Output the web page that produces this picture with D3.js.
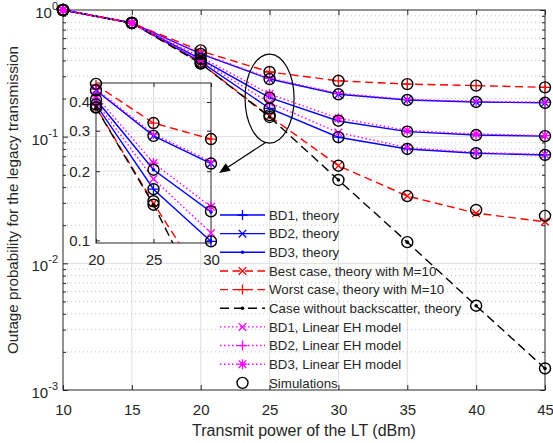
<!DOCTYPE html>
<html>
<head>
<meta charset="utf-8">
<script src="https://cdn.jsdelivr.net/npm/d3@7"></script>
<style>
body { margin: 0; background: #fff; }
text { font-family: "Liberation Sans", Arial, sans-serif; fill: #262626; }
</style>
</head>
<body>
<div id="chart"></div>
<script>
// data
var powerDbm = [10, 15, 20, 25, 30, 35, 40, 45];

var bd1Theory     = [1.0, 0.79, 0.39,  0.167, 0.099,  0.080,  0.074,  0.0717];
var bd2Theory     = [1.0, 0.79, 0.45,  0.285, 0.216,  0.195,  0.188,  0.185];
var bd3Theory     = [1.0, 0.79, 0.41,  0.203, 0.133,  0.1095, 0.103,  0.101];
var bestCase      = [1.0, 0.79, 0.38,  0.145, 0.059,  0.034,  0.0249, 0.0213];
var worstCase     = [1.0, 0.79, 0.475, 0.324, 0.276,  0.26,   0.253,  0.245];
var noBackscatter = [1.0, 0.79, 0.378, 0.143, 0.0455, 0.0147, 0.00463, 0.00148];
var bd1Linear     = [1.0, 0.79, 0.40,  0.185, 0.1077, 0.082,  0.075,  0.0725];
var bd2Linear     = [1.0, 0.79, 0.455, 0.29,  0.22,   0.197,  0.19,   0.187];
var bd3Linear     = [1.0, 0.79, 0.425, 0.217, 0.14,   0.112,  0.105,  0.102];

var simBD1   = [1.0, 0.79, 0.39,  0.167, 0.099,  0.080,  0.074,  0.0717];
var simBD2   = [1.0, 0.79, 0.45,  0.285, 0.216,  0.195,  0.188,  0.185];
var simBD3   = [1.0, 0.79, 0.41,  0.203, 0.1337, 0.1095, 0.103,  0.101];
var simBest  = [1.0, 0.79, 0.38,  0.148, 0.059,  0.034,  0.0264, 0.0237];
var simWorst = [1.0, 0.79, 0.48,  0.324, 0.276,  0.26,   0.253,  0.245];
var simNoBS  = [1.0, 0.79, 0.378, 0.143, 0.0455, 0.0147, 0.00463, 0.00148];

var xTicks = [10, 15, 20, 25, 30, 35, 40, 45];
var yTickExps = [0, -1, -2, -3];
var insetXTicks = [20, 25, 30];
var insetYTicks = [0.1, 0.2, 0.3, 0.4];

var legendLabels = ["BD1, theory", "BD2, theory", "BD3, theory",
    "Best case, theory with M=10", "Worst case, theory with M=10",
    "Case without backscatter, theory", "BD1, Linear EH model",
    "BD2, Linear EH model", "BD3, Linear EH model", "Simulations"];

var svgwidth = 553, svgheight = 443;
var plot = {left: 63, right: 545, top: 10, bottom: 390};
var inset = {left: 96, right: 211, top: 83, bottom: 243};

var svg = d3.select("#chart").append("svg").attr("width", svgwidth).attr("height", svgheight);

var x = d3.scaleLinear().domain([10, 45]).range([plot.left, plot.right]);
var y = d3.scaleLog().domain([1e-3, 1]).range([plot.bottom, plot.top]);
var xi = d3.scaleLinear().domain([20, 30]).range([inset.left, inset.right]);
var yi = d3.scaleLog().domain([0.0974, 0.484]).range([inset.bottom, inset.top]);

var blue = "#0000ff", red = "#ff0000", mag = "#ff00ff", blk = "#000000";
var dashed = "8,4.5", dotted = "1.5,2.5";

var series = [
    {vals: bd1Theory, color: blue, dash: null, marker: "plus"},
    {vals: bd2Theory, color: blue, dash: null, marker: "cross"},
    {vals: bd3Theory, color: blue, dash: null, marker: "dot"},
    {vals: bestCase, color: red, dash: dashed, marker: "cross"},
    {vals: worstCase, color: red, dash: dashed, marker: "plus"},
    {vals: noBackscatter, color: blk, dash: "9,5", marker: "dot"},
    {vals: bd1Linear, color: mag, dash: dotted, marker: "cross"},
    {vals: bd2Linear, color: mag, dash: dotted, marker: "plus"},
    {vals: bd3Linear, color: mag, dash: dotted, marker: "star"}
];
var sims = [simBD1, simBD2, simBD3, simBest, simWorst, simNoBS];

function markerPath(type) {
    var s = 5, c = 3.8;
    if (type == "plus") return "M" + (-s) + ",0H" + s + "M0," + (-s) + "V" + s;
    if (type == "cross") return "M" + (-c) + "," + (-c) + "L" + c + "," + c + "M" + (-c) + "," + c + "L" + c + "," + (-c);
    if (type == "star") return markerPath("plus") + markerPath("cross");
    return "";
}

function drawMarker(g, type, color, px, py) {
    if (type == "dot") {
        g.append("circle").attr("cx", px).attr("cy", py).attr("r", 1.8).attr("fill", color);
    } else if (type == "circle") {
        g.append("circle").attr("cx", px).attr("cy", py).attr("r", 5.5)
            .attr("fill", "none").attr("stroke", blk).attr("stroke-width", 1.4);
    } else {
        g.append("path").attr("d", markerPath(type)).attr("transform", "translate(" + px + "," + py + ")")
            .attr("fill", "none").attr("stroke", color).attr("stroke-width", 1.3);
    }
}

var defs = svg.append("defs");
defs.append("clipPath").attr("id", "clipMain").append("rect")
    .attr("x", plot.left).attr("y", plot.top).attr("width", plot.right - plot.left).attr("height", plot.bottom - plot.top);
defs.append("clipPath").attr("id", "clipInset").append("rect")
    .attr("x", inset.left).attr("y", inset.top).attr("width", inset.right - inset.left).attr("height", inset.bottom - inset.top);

// grid
var grid = svg.append("g");
xTicks.slice(1, -1).forEach(function(t) {
    grid.append("line").attr("x1", x(t)).attr("x2", x(t)).attr("y1", plot.top).attr("y2", plot.bottom)
        .attr("stroke", "#dedede").attr("stroke-width", 1);
});
[1e-1, 1e-2].forEach(function(v) {
    grid.append("line").attr("x1", plot.left).attr("x2", plot.right).attr("y1", y(v)).attr("y2", y(v))
        .attr("stroke", "#dedede").attr("stroke-width", 1);
});
var minorVals = [];
[-3, -2, -1].forEach(function(k) {
    for (var m = 2; m <= 9; m++) minorVals.push(m * Math.pow(10, k));
});
minorVals.forEach(function(v) {
    grid.append("line").attr("x1", plot.left).attr("x2", plot.right).attr("y1", y(v)).attr("y2", y(v))
        .attr("stroke", "#bdbdbd").attr("stroke-width", 0.9).attr("stroke-dasharray", "1,3");
});

// axes ticks (inside)
svg.append("g").attr("transform", "translate(0," + plot.bottom + ")")
    .call(d3.axisBottom(x).tickValues(xTicks).tickSizeInner(-5).tickSizeOuter(0).tickPadding(14))
    .call(function(g) { g.select(".domain").remove(); g.selectAll("text").attr("font-size", 15).attr("fill", "#262626"); });
svg.append("g").attr("transform", "translate(0," + plot.top + ")")
    .call(d3.axisTop(x).tickValues(xTicks).tickSizeInner(-5).tickSizeOuter(0).tickFormat(""))
    .call(function(g) { g.select(".domain").remove(); });
svg.append("g").attr("transform", "translate(" + plot.left + ",0)")
    .call(d3.axisLeft(y).tickValues(yTickExps.map(function(e) { return Math.pow(10, e); })).tickSizeInner(-5).tickSizeOuter(0).tickFormat(""))
    .call(function(g) { g.select(".domain").remove(); });
svg.append("g").attr("transform", "translate(" + plot.left + ",0)")
    .call(d3.axisLeft(y).tickValues(minorVals).tickSizeInner(-3).tickSizeOuter(0).tickFormat(""))
    .call(function(g) { g.select(".domain").remove(); });
svg.append("g").attr("transform", "translate(" + plot.right + ",0)")
    .call(d3.axisRight(y).tickValues(yTickExps.map(function(e) { return Math.pow(10, e); })).tickSizeInner(-5).tickSizeOuter(0).tickFormat(""))
    .call(function(g) { g.select(".domain").remove(); });
svg.append("g").attr("transform", "translate(" + plot.right + ",0)")
    .call(d3.axisRight(y).tickValues(minorVals).tickSizeInner(-3).tickSizeOuter(0).tickFormat(""))
    .call(function(g) { g.select(".domain").remove(); });
svg.selectAll(".tick line").attr("stroke", "#262626");

yTickExps.forEach(function(e) {
    var t = svg.append("text").attr("x", plot.left - 5).attr("y", y(Math.pow(10, e)) + 8)
        .attr("text-anchor", "end").attr("font-size", 15).text("10");
    t.append("tspan").attr("dy", -8).attr("font-size", 11).text(e);
});

svg.append("rect").attr("x", plot.left).attr("y", plot.top)
    .attr("width", plot.right - plot.left).attr("height", plot.bottom - plot.top)
    .attr("fill", "none").attr("stroke", "#262626").attr("stroke-width", 1);

// axis titles
svg.append("text").attr("x", (plot.left + plot.right) / 2).attr("y", 436)
    .attr("text-anchor", "middle").attr("font-size", 16).text("Transmit power of the LT (dBm)");
svg.append("text").attr("transform", "translate(18," + (plot.top + plot.bottom) / 2 + ") rotate(-90)")
    .attr("text-anchor", "middle").attr("font-size", 15.2).text("Outage probability for the legacy transmission");

// main data
var mainG = svg.append("g");
series.forEach(function(s) {
    var line = d3.line().x(function(d, i) { return x(powerDbm[i]); }).y(function(d) { return y(d); });
    mainG.append("path").datum(s.vals).attr("d", line).attr("clip-path", "url(#clipMain)")
        .attr("fill", "none").attr("stroke", s.color).attr("stroke-width", 1.4)
        .attr("stroke-dasharray", s.dash);
});
series.forEach(function(s) {
    s.vals.forEach(function(v, i) { drawMarker(mainG, s.marker, s.color, x(powerDbm[i]), y(v)); });
});
sims.forEach(function(sv) {
    sv.forEach(function(v, i) { drawMarker(mainG, "circle", blk, x(powerDbm[i]), y(v)); });
});

// inset
var insG = svg.append("g");
insetXTicks.slice(1, -1).forEach(function(t) {
    insG.append("line").attr("x1", xi(t)).attr("x2", xi(t)).attr("y1", inset.top).attr("y2", inset.bottom)
        .attr("stroke", "#dedede");
});
insetYTicks.slice(1).forEach(function(t) {
    insG.append("line").attr("x1", inset.left).attr("x2", inset.right).attr("y1", yi(t)).attr("y2", yi(t))
        .attr("stroke", "#e4e4e4");
});
insG.append("g").attr("transform", "translate(0," + inset.bottom + ")")
    .call(d3.axisBottom(xi).tickValues(insetXTicks).tickSizeInner(-4).tickSizeOuter(0).tickPadding(11))
    .call(function(g) { g.select(".domain").remove(); g.selectAll("text").attr("font-size", 15).attr("fill", "#262626"); });
insG.append("g").attr("transform", "translate(0," + inset.top + ")")
    .call(d3.axisTop(xi).tickValues(insetXTicks).tickSizeInner(-4).tickSizeOuter(0).tickFormat(""))
    .call(function(g) { g.select(".domain").remove(); });
insG.append("g").attr("transform", "translate(" + inset.left + ",0)")
    .call(d3.axisLeft(yi).tickValues(insetYTicks).tickSizeInner(-4).tickSizeOuter(0).tickPadding(6).tickFormat(d3.format(".1f")))
    .call(function(g) { g.select(".domain").remove(); g.selectAll("text").attr("font-size", 15).attr("fill", "#262626"); });
insG.append("g").attr("transform", "translate(" + inset.right + ",0)")
    .call(d3.axisRight(yi).tickValues(insetYTicks).tickSizeInner(-4).tickSizeOuter(0).tickFormat(""))
    .call(function(g) { g.select(".domain").remove(); });
insG.selectAll(".tick line").attr("stroke", "#262626");
insG.append("rect").attr("x", inset.left).attr("y", inset.top)
    .attr("width", inset.right - inset.left).attr("height", inset.bottom - inset.top)
    .attr("fill", "none").attr("stroke", "#262626").attr("stroke-width", 1);

function inInset(i, v) {
    return powerDbm[i] >= 20 && powerDbm[i] <= 30 && v >= yi.domain()[0] * 0.99 && v <= yi.domain()[1] * 1.01;
}
series.forEach(function(s) {
    var line = d3.line().x(function(d, i) { return xi(powerDbm[i]); }).y(function(d) { return yi(d); });
    insG.append("path").datum(s.vals).attr("d", line).attr("clip-path", "url(#clipInset)")
        .attr("fill", "none").attr("stroke", s.color).attr("stroke-width", 1.4)
        .attr("stroke-dasharray", s.dash);
});
series.forEach(function(s) {
    s.vals.forEach(function(v, i) { if (inInset(i, v)) drawMarker(insG, s.marker, s.color, xi(powerDbm[i]), yi(v)); });
});
sims.forEach(function(sv) {
    sv.forEach(function(v, i) { if (inInset(i, v)) drawMarker(insG, "circle", blk, xi(powerDbm[i]), yi(v)); });
});

// ellipse and arrow annotation
var ecx = x(25), ecy = y(0.2);
svg.append("ellipse").attr("cx", ecx).attr("cy", ecy).attr("rx", 24.5).attr("ry", 44.5)
    .attr("fill", "none").attr("stroke", blk).attr("stroke-width", 1.2);
var a0 = [ecx - 4, ecy + 44], a1 = [219, 173];
var ang = Math.atan2(a1[1] - a0[1], a1[0] - a0[0]);
var hl = 11, hw = 4.5;
var bx = a1[0] - hl * Math.cos(ang), by = a1[1] - hl * Math.sin(ang);
svg.append("line").attr("x1", a0[0]).attr("y1", a0[1]).attr("x2", bx).attr("y2", by)
    .attr("stroke", blk).attr("stroke-width", 1.2);
svg.append("path").attr("d", "M" + a1[0] + "," + a1[1] +
        "L" + (bx + hw * Math.sin(ang)) + "," + (by - hw * Math.cos(ang)) +
        "L" + (bx - hw * Math.sin(ang)) + "," + (by + hw * Math.cos(ang)) + "Z")
    .attr("fill", blk);

// legend (no box)
var legend = svg.append("g");
var legendStyles = series.map(function(s) { return s; }).concat([{color: blk, dash: "none", marker: "circle", noLine: true}]);
legendLabels.forEach(function(lab, i) {
    var ly = 215 + i * 18.65;
    var st = legendStyles[i];
    if (!st.noLine) {
        legend.append("line").attr("x1", 220).attr("x2", 265).attr("y1", ly).attr("y2", ly)
            .attr("stroke", st.color).attr("stroke-width", 1.4).attr("stroke-dasharray", st.dash);
    }
    drawMarker(legend, st.marker, st.color, 242.5, ly);
    legend.append("text").attr("x", 269).attr("y", ly + 4.7).attr("font-size", 13.3).attr("fill", "#000").text(lab);
});
</script>
</body>
</html>
